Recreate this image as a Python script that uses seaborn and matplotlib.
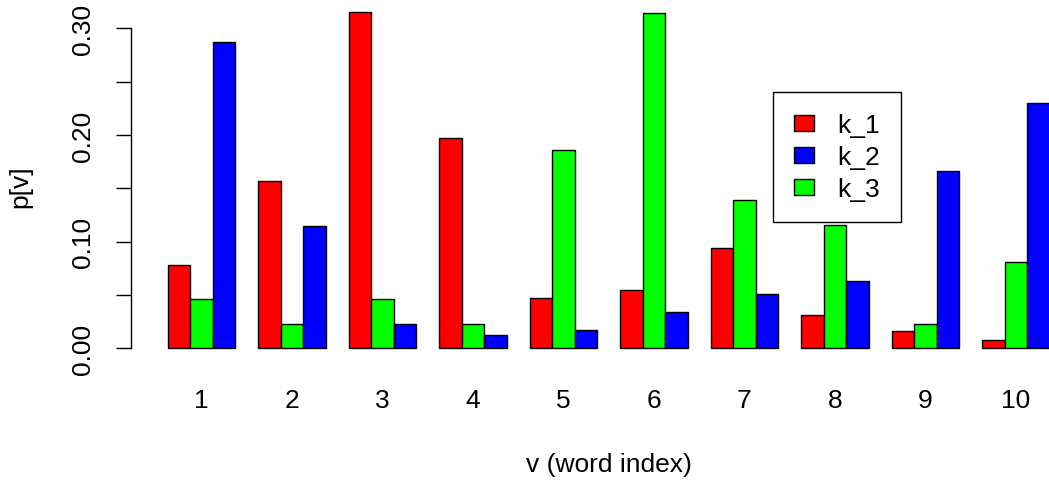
import numpy as np
import pandas as pd
import matplotlib
matplotlib.use("Agg")
import matplotlib.pyplot as plt
import seaborn as sns

# ---- data ----
words = ["1", "2", "3", "4", "5", "6", "7", "8", "9", "10"]
k_1 = [0.078, 0.157, 0.315, 0.197, 0.047, 0.055, 0.094, 0.031, 0.016, 0.008]
k_2 = [0.287, 0.115, 0.023, 0.012, 0.017, 0.034, 0.051, 0.063, 0.166, 0.230]
k_3 = [0.046, 0.023, 0.046, 0.023, 0.186, 0.314, 0.139, 0.116, 0.023, 0.081]
topic_names = ["k_1", "k_2", "k_3"]
bar_order = ["k_1", "k_3", "k_2"]
colors = {"k_1": "#FF0000", "k_2": "#0000FF", "k_3": "#00FF00"}
y_ticks = [0.0, 0.05, 0.10, 0.15, 0.20, 0.25, 0.30]
y_ticklabels = ["0.00", "", "0.10", "", "0.20", "", "0.30"]

df = pd.DataFrame({
    "v": words * 3,
    "p": k_1 + k_2 + k_3,
    "k": ["k_1"] * 10 + ["k_2"] * 10 + ["k_3"] * 10,
})

sns.set_style("white")
plt.rcParams["font.family"] = ["Liberation Sans", "DejaVu Sans"]
plt.rcParams["text.color"] = "black"
plt.rcParams["axes.labelcolor"] = "black"
plt.rcParams["xtick.color"] = "black"
plt.rcParams["ytick.color"] = "black"

FS = 19

W, H = 1049, 481
fig = plt.figure(figsize=(W / 100, H / 100), dpi=100)
ax_l, ax_r, ax_t, ax_b = 131, 1049, 0, 370
ax = fig.add_axes([ax_l / W, 1 - ax_b / H, (ax_r - ax_l) / W, (ax_b - ax_t) / H])

sns.barplot(data=df, x="v", y="p", hue="k", order=words, hue_order=bar_order,
            palette=colors, width=0.75, edgecolor="black", linewidth=1.0,
            saturation=1, ax=ax, legend=True)

# scales
px_per_unit = 90.5
c0 = 201.5
ax.set_xlim((ax_l - c0) / px_per_unit, (ax_r - c0) / px_per_unit)
y0 = 349.3
py = 1066.7
ax.set_ylim((y0 - ax_b) / py, (y0 - ax_t) / py)

for s in ["top", "right", "bottom"]:
    ax.spines[s].set_visible(False)
ax.spines["left"].set_bounds(0, 0.30)
ax.spines["left"].set_color("black")
ax.spines["left"].set_linewidth(1.0)

ax.set_yticks(y_ticks)
ax.set_yticklabels(y_ticklabels, rotation=90, va="center", fontsize=FS)
ax.tick_params(axis="y", length=11, width=1.0, pad=15, colors="black", left=True)
ax.tick_params(axis="x", length=0, pad=14, labelsize=FS, colors="black")

ax.set_xlabel("v (word index)", fontsize=FS, va="center")
ax.xaxis.set_label_coords((609 - ax_l) / (ax_r - ax_l), -(465 - ax_b) / (ax_b - ax_t))
ax.set_ylabel("p[v]", fontsize=FS, va="center")
ax.yaxis.set_label_coords((20 - ax_l) / (ax_r - ax_l), (ax_b - 187) / (ax_b - ax_t))

# legend in k_1, k_2, k_3 order
handles, labels = ax.get_legend_handles_labels()
hmap = dict(zip(labels, handles))
ax.legend([hmap[n] for n in topic_names], topic_names,
          loc="upper left", bbox_to_anchor=(772.7 / W, 1 - 93.3 / H),
          bbox_transform=fig.transFigure, frameon=True, fancybox=False,
          edgecolor="black", framealpha=1, fontsize=FS,
          handlelength=0.76, handleheight=0.6, handletextpad=0.9,
          labelspacing=0.3, borderpad=0.8, borderaxespad=0)
ax.get_legend().get_frame().set_linewidth(1.0)

fig.savefig("out.png", dpi=100, facecolor="white")
